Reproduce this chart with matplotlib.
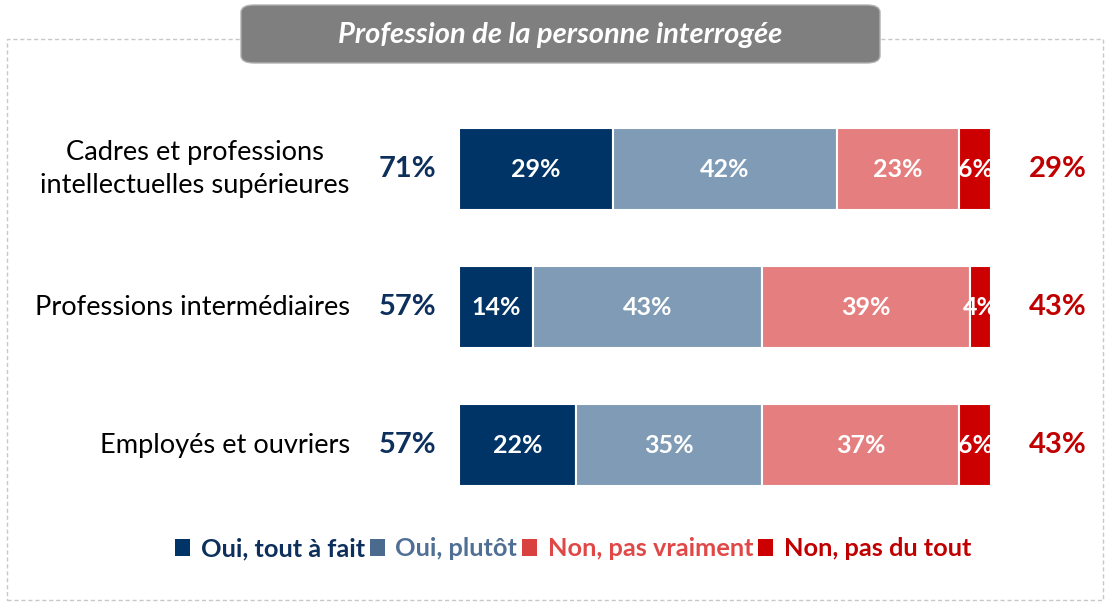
import matplotlib.pyplot as plt
from matplotlib.patches import FancyBboxPatch, Rectangle, Patch

plt.rcParams['font.family'] = ['Lato', 'DejaVu Sans']

categories = ['Cadres et professions\nintellectuelles supérieures',
              'Professions intermédiaires',
              'Employés et ouvriers']
tout_a_fait = [29, 14, 22]
plutot = [42, 43, 35]
pas_vraiment = [23, 39, 37]
pas_du_tout = [6, 4, 6]
total_oui = [71, 57, 57]
total_non = [29, 43, 43]

series_names = ['Oui, tout à fait', 'Oui, plutôt', 'Non, pas vraiment', 'Non, pas du tout']
bar_colors = ['#003366', '#7F9BB5', '#E57F7F', '#CC0000']
legend_colors = ['#003366', '#4A6A8E', '#D94040', '#CC0000']
text_colors = ['#0D2F5C', '#4F6F94', '#E04848', '#C00000']

W, H = 1106, 605
fig = plt.figure(figsize=(W / 100, H / 100), dpi=100)

# dashed frame
fig.patches.append(Rectangle((7 / W, 1 - 600 / H), 1096 / W, 561 / H,
                             transform=fig.transFigure, fill=False,
                             edgecolor='#c8c8c8', linestyle=(0, (3, 2)), lw=1))
# title box
fig.patches.append(FancyBboxPatch((241 / W, 1 - 63 / H), 639 / W, 58 / H,
                                  boxstyle='round,pad=0,rounding_size=0.012',
                                  transform=fig.transFigure,
                                  facecolor='#7F7F7F', edgecolor='#b0b0b0', lw=1))
fig.text(560 / W, 1 - 35 / H, 'Profession de la personne interrogée',
         ha='center', va='center', color='white', fontsize=21,
         fontweight='bold', style='italic')

ax = fig.add_axes([459 / W, 1 - 514 / H, 532 / W, 414 / H])
ax.set_xlim(0, 100)
ax.set_ylim(2.5, -0.5)
ax.axis('off')

y = range(len(categories))
left = [0, 0, 0]
for vals, col in zip([tout_a_fait, plutot, pas_vraiment, pas_du_tout], bar_colors):
    ax.barh(y, vals, left=left, height=0.6, color=col, edgecolor='white', lw=1.5)
    for i, v in enumerate(vals):
        ax.text(left[i] + v / 2, i, f'{v}%', ha='center', va='center',
                color='white', fontsize=18, fontweight='bold')
    left = [l + v for l, v in zip(left, vals)]

for i, cat in enumerate(categories):
    ax.text(-20.5, i, cat, ha='right', va='center', fontsize=19.6,
            multialignment='center', color='#000000', linespacing=1.4)
    ax.text(-9.6, i, f'{total_oui[i]}%', ha='center', va='center',
            fontsize=21, fontweight='bold', color='#0D2F5C')
    ax.text(112.6, i, f'{total_non[i]}%', ha='center', va='center',
            fontsize=21, fontweight='bold', color='#C00000')

handles = [Patch(facecolor=c, edgecolor='none') for c in legend_colors]
leg = fig.legend(handles, series_names, loc='center',
                 bbox_to_anchor=(573 / W, 1 - 549 / H), ncol=4, frameon=False,
                 handlelength=0.6, handleheight=0.6, handletextpad=0.4,
                 columnspacing=0.2, labelcolor=text_colors,
                 prop={'size': 18.3, 'weight': 'bold'})

fig.savefig('out.png', dpi=100)
